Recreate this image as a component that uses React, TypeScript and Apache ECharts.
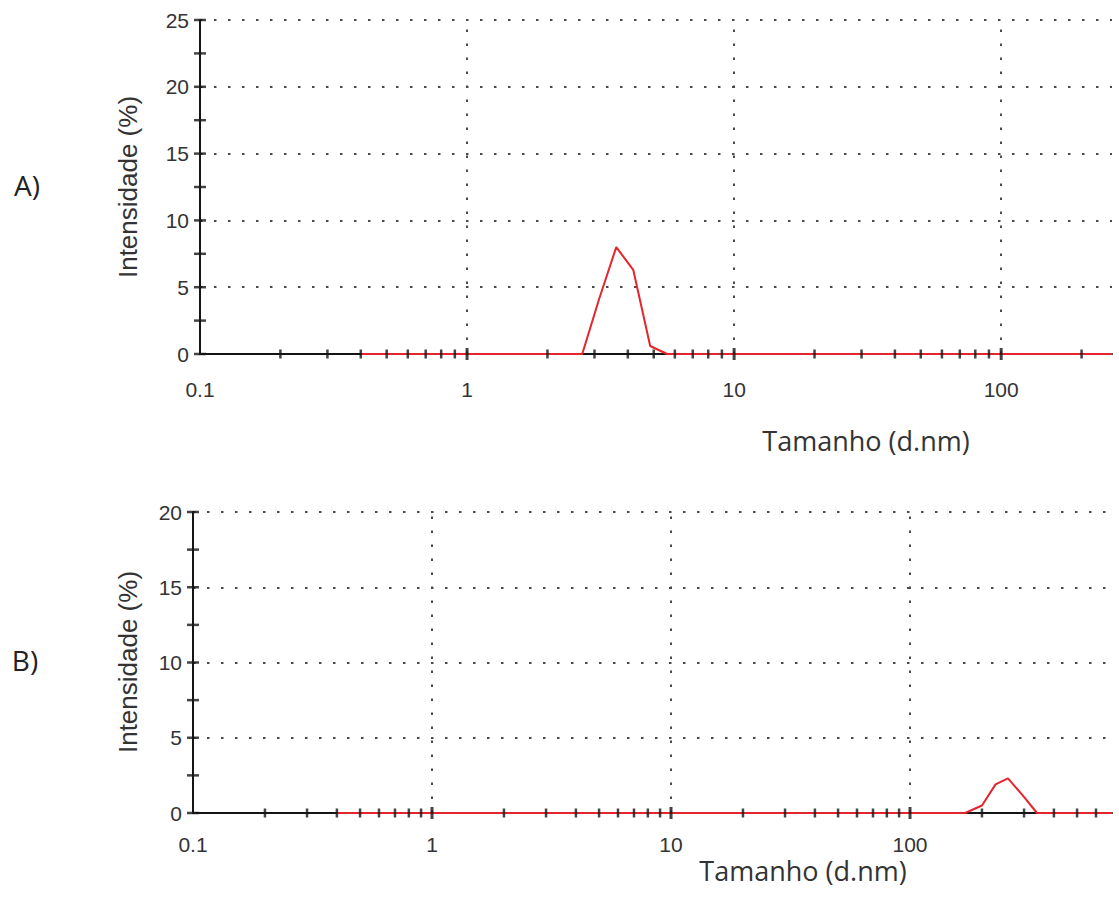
import React, { useEffect, useRef } from "react";
import * as echarts from "echarts";

// Panel A data (diameter in d.nm, intensity in %)
const diameterA = [0.4, 2.7, 3.12, 3.62, 4.19, 4.85, 5.61, 260];
const intensityA = [0, 0, 4.1, 8.0, 6.3, 0.6, 0, 0];
// Panel B data
const diameterB = [0.4, 170, 200, 228, 257, 295, 340, 700];
const intensityB = [0, 0, 0.5, 1.9, 2.3, 1.2, 0, 0];

// Axis ranges and tick lists
const xMinA = 0.1;
const xMaxA = 260;
const xMinB = 0.1;
const xMaxB = 700;
const yMaxA = 25;
const yMaxB = 20;
const decadeTicks = [1, 10, 100];
const minorTicksA = [0.2, 0.3, 0.4, 0.5, 0.6, 0.7, 0.8, 0.9, 2, 3, 4, 5, 6, 7, 8, 9, 20, 30, 40, 50, 60, 70, 80, 90, 200];
const minorTicksB = [0.2, 0.3, 0.4, 0.5, 0.6, 0.7, 0.8, 0.9, 2, 3, 4, 5, 6, 7, 8, 9, 20, 30, 40, 50, 60, 70, 80, 90, 200, 300, 400, 500, 600];
const yTicksA = [0, 2.5, 5, 7.5, 10, 12.5, 15, 17.5, 20, 22.5, 25];
const yTicksB = [0, 2.5, 5, 7.5, 10, 12.5, 15, 17.5, 20];

const xTitle = "Tamanho (d.nm)";
const yTitle = "Intensidade (%)";
const panelLabels = ["A)", "B)"];

const RED = "#e5252c";
const AXIS = "#151515";
const DOT = "#4a4a4a";
const LABEL = "#333333";
const dotType = [2.5, 11.5];

function fmtLog(v: number) {
  const l = Math.log10(v);
  if (Math.abs(l - Math.round(l)) > 1e-6) return "";
  if (v < 1) return v.toFixed(1);
  return String(Math.round(v));
}

function buildOption() {
  const panels = [
    { dx: diameterA, dy: intensityA, xMin: xMinA, xMax: xMaxA, yMax: yMaxA, minor: minorTicksA, yTicks: yTicksA },
    { dx: diameterB, dy: intensityB, xMin: xMinB, xMax: xMaxB, yMax: yMaxB, minor: minorTicksB, yTicks: yTicksB },
  ];
  const grids = [
    { left: 200, top: 20, width: 912, height: 334 },
    { left: 193, top: 512, width: 919, height: 301 },
  ];
  const xAxis: any[] = [];
  const yAxis: any[] = [];
  const series: any[] = [];
  panels.forEach((p, i) => {
    xAxis.push({
      type: "log",
      logBase: 10,
      gridIndex: i,
      min: p.xMin,
      max: p.xMax,
      axisLine: { show: true, lineStyle: { color: AXIS, width: 2 } },
      axisTick: { show: false },
      minorTick: { show: false },
      splitLine: { show: false },
      axisLabel: {
        formatter: fmtLog,
        fontSize: 21,
        color: LABEL,
        margin: i === 0 ? 25 : 21,
        fontFamily: "Liberation Sans",
      },
    });
    yAxis.push({
      type: "value",
      gridIndex: i,
      min: 0,
      max: p.yMax,
      interval: 5,
      axisLine: { show: true, lineStyle: { color: AXIS, width: 2 } },
      axisTick: { show: false },
      axisLabel: { fontSize: 21, color: LABEL, margin: 11, fontFamily: "Liberation Sans" },
      splitLine: { show: true, lineStyle: { type: dotType, width: 2, color: DOT } },
    });
    series.push({
      type: "line",
      xAxisIndex: i,
      yAxisIndex: i,
      data: p.dx.map((d, k) => [d, p.dy[k]]),
      symbol: "none",
      lineStyle: { color: RED, width: 2 },
      z: 3,
      markLine: {
        silent: true,
        symbol: "none",
        label: { show: false },
        lineStyle: { type: dotType, width: 2, color: DOT },
        data: decadeTicks.map((v) => ({ xAxis: v })),
        z: 1,
      },
    });
    series.push({
      type: "scatter",
      xAxisIndex: i,
      yAxisIndex: i,
      data: p.minor.map((v) => [v, 0]),
      symbol: "rect",
      symbolSize: [2.5, 9],
      itemStyle: { color: AXIS },
      silent: true,
      clip: false,
      z: 5,
    });
    series.push({
      type: "scatter",
      xAxisIndex: i,
      yAxisIndex: i,
      data: decadeTicks.map((v) => [v, 0]),
      symbol: "rect",
      symbolSize: [3, 12],
      itemStyle: { color: AXIS },
      silent: true,
      clip: false,
      z: 5,
    });
    series.push({
      type: "scatter",
      xAxisIndex: i,
      yAxisIndex: i,
      data: p.yTicks.map((v) => [p.xMin, v]),
      symbol: "rect",
      symbolSize: [12, 2.5],
      itemStyle: { color: AXIS },
      silent: true,
      clip: false,
      z: 5,
    });
  });

  const graphic: any[] = [
    { type: "text", x: 27, y: 185, style: { text: panelLabels[0], fontSize: 28, fontFamily: "Open Sans", fill: "#222", align: "center", verticalAlign: "middle" } },
    { type: "text", x: 25, y: 660, style: { text: panelLabels[1], fontSize: 28, fontFamily: "Open Sans", fill: "#222", align: "center", verticalAlign: "middle" } },
    { type: "text", x: 866, y: 440, style: { text: xTitle, fontSize: 27, fontFamily: "Open Sans", fill: "#333", align: "center", verticalAlign: "middle" } },
    { type: "text", x: 803, y: 870, style: { text: xTitle, fontSize: 27, fontFamily: "Open Sans", fill: "#333", align: "center", verticalAlign: "middle" } },
    { type: "text", x: 128, y: 187, rotation: Math.PI / 2, style: { text: yTitle, fontSize: 26, fontFamily: "Liberation Sans", fill: "#333", align: "center", verticalAlign: "middle" } },
    { type: "text", x: 128, y: 662, rotation: Math.PI / 2, style: { text: yTitle, fontSize: 26, fontFamily: "Liberation Sans", fill: "#333", align: "center", verticalAlign: "middle" } },
  ];

  return {
    animation: false,
    backgroundColor: "#ffffff",
    grid: grids,
    xAxis,
    yAxis,
    series,
    graphic,
  };
}

export default function App() {
  const ref = useRef<HTMLDivElement>(null);
  useEffect(() => {
    if (!ref.current) return;
    const chart = echarts.init(ref.current, undefined, { renderer: "svg" });
    chart.setOption(buildOption() as any);
    return () => chart.dispose();
  }, []);
  return (
    <div
      ref={ref}
      style={{ position: "fixed", left: 0, top: 0, width: 1119, height: 913, background: "#fff" }}
    />
  );
}
